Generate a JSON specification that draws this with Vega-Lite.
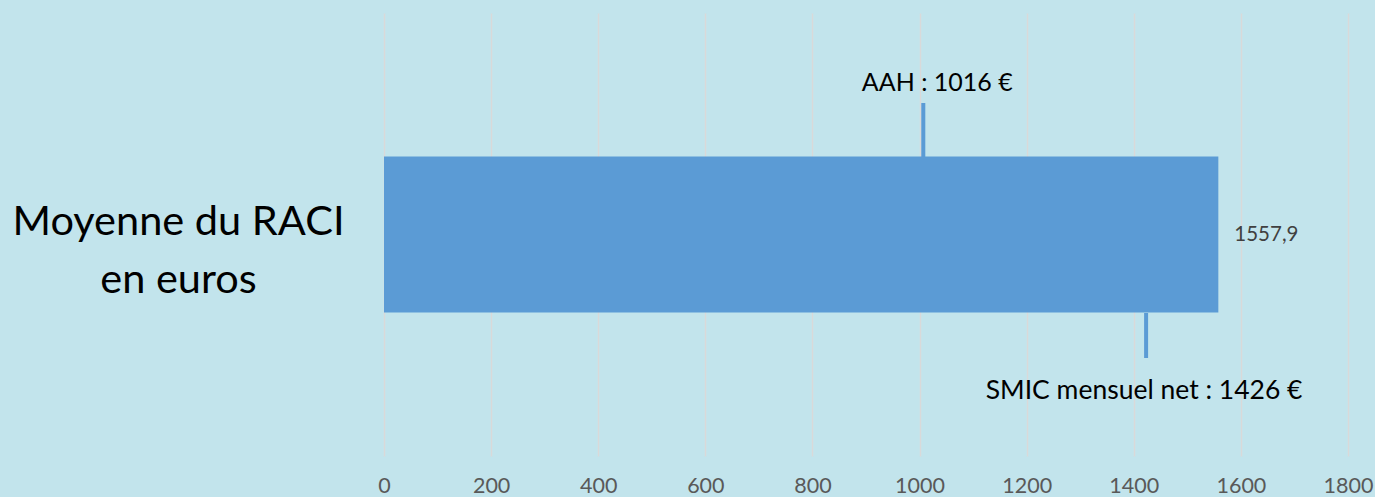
{
  "$schema": "https://vega.github.io/schema/vega-lite/v6.json",
  "autosize": {"type": "none"},
  "width": 964,
  "height": 443,
  "padding": {"left": 384, "top": 13, "right": 27, "bottom": 41},
  "background": "#C2E4EC",
  "config": {
    "view": {"stroke": null},
    "font": "Lato",
    "locale": {"number": {"decimal": ",", "thousands": " ", "grouping": [3], "currency": ["", " €"]}}
  },
  "datasets": {
    "main": [{"cat": "Moyenne du RACI en euros", "value": 1557.9}],
    "refs": [
      {"cat": "Moyenne du RACI en euros", "name": "AAH", "value": 1007, "label": "AAH : 1016 €"},
      {"cat": "Moyenne du RACI en euros", "name": "SMIC", "value": 1423, "label": "SMIC mensuel net : 1426 €"}
    ]
  },
  "encoding": {
    "y": {
      "field": "cat", "type": "nominal", "title": null,
      "scale": {"paddingInner": 0, "paddingOuter": 0.92},
      "axis": {
        "domain": false, "ticks": false,
        "labelExpr": "['Moyenne du RACI', 'en euros']",
        "labelAlign": "center", "labelBaseline": "middle",
        "labelPadding": 206, "labelFontSize": 41.5, "labelColor": "#000000",
        "labelLineHeight": 58, "labelOffset": -12, "labelLimit": 0
      }
    },
    "x": {
      "field": "value", "type": "quantitative", "title": null,
      "scale": {"domain": [0, 1800], "nice": false},
      "axis": {
        "values": [0, 200, 400, 600, 800, 1000, 1200, 1400, 1600, 1800],
        "format": "d", "domain": false, "ticks": false,
        "grid": true, "gridColor": "#D9D9D9", "gridWidth": 1.5,
        "labelFontSize": 21.5, "labelColor": "#595959", "labelPadding": 19,
        "labelBaseline": "top", "labelFlush": false, "labelOverlap": false
      }
    }
  },
  "layer": [
    {
      "data": {"name": "main"},
      "mark": {"type": "bar", "color": "#5B9BD5"}
    },
    {
      "data": {"name": "main"},
      "mark": {"type": "text", "align": "left", "baseline": "middle", "dx": 16, "fontSize": 20.5, "color": "#404040"},
      "encoding": {"text": {"field": "value", "type": "quantitative", "format": ".1f"}}
    },
    {
      "data": {"name": "refs"},
      "transform": [{"filter": "datum.name === 'AAH'"}],
      "layer": [
        {"mark": {"type": "tick", "orient": "vertical", "color": "#5B9BD5", "size": 54, "thickness": 4, "yOffset": -104.5, "opacity": 1}},
        {"mark": {"type": "text", "align": "center", "baseline": "middle", "dx": 14, "yOffset": -152, "fontSize": 25, "color": "#000000"},
         "encoding": {"text": {"field": "label"}}}
      ]
    },
    {
      "data": {"name": "refs"},
      "transform": [{"filter": "datum.name === 'SMIC'"}],
      "layer": [
        {"mark": {"type": "tick", "orient": "vertical", "color": "#5B9BD5", "size": 45, "thickness": 4, "yOffset": 101, "opacity": 1}},
        {"mark": {"type": "text", "align": "center", "baseline": "middle", "dx": -2, "yOffset": 156.5, "fontSize": 26.5, "color": "#000000"},
         "encoding": {"text": {"field": "label"}}}
      ]
    }
  ]
}
